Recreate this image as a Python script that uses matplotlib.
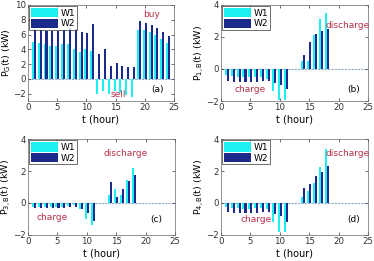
import numpy as np
import matplotlib
matplotlib.use("Agg")
import matplotlib.pyplot as plt

t = np.arange(1, 25)

pg_w1 = [5.0, 4.8, 4.7, 4.5, 4.5, 4.7, 4.7, 4.0, 3.6, 4.1, 3.8, -2.1,
         -1.6, -2.1, -1.7, -1.9, -2.2, -2.4, 6.6, 6.6, 6.3, 5.9, 5.4, 4.9]
pg_w2 = [6.8, 6.6, 6.5, 6.5, 6.5, 6.6, 6.9, 6.8, 6.3, 6.2, 7.4, 3.4,
         4.1, 1.7, 2.1, 1.7, 1.6, 1.6, 7.8, 7.6, 7.3, 6.9, 6.4, 5.8]

p1_w1 = [-0.4, -0.45, -0.5, -0.5, -0.5, -0.5, -0.5, -0.6, -1.4, -1.95, -1.95, 0,
         0, 0.5, 0.5, 2.1, 3.1, 3.5, 0, 0, 0, 0, 0, 0]
p1_w2 = [-0.75, -0.8, -0.8, -0.82, -0.8, -0.8, -0.75, -0.75, -0.9, -1.0, -1.25, 0,
         0, 0.85, 1.7, 2.2, 2.4, 2.5, 0, 0, 0, 0, 0, 0]

p3_w1 = [-0.25, -0.25, -0.25, -0.25, -0.25, -0.25, -0.2, -0.15, -0.4, -1.0, -1.4, 0,
         0, 0.5, 0.9, 0.5, 1.47, 2.22, 0, 0, 0, 0, 0, 0]
p3_w2 = [-0.3, -0.3, -0.3, -0.33, -0.33, -0.3, -0.25, -0.25, -0.4, -0.6, -1.1, 0,
         0, 1.3, 0.35, 0.85, 1.4, 1.75, 0, 0, 0, 0, 0, 0]

p4_w1 = [-0.25, -0.3, -0.3, -0.35, -0.35, -0.3, -0.3, -0.4, -1.2, -1.8, -1.8, 0,
         0, 0.4, 0.75, 1.25, 2.25, 3.4, 0, 0, 0, 0, 0, 0]
p4_w2 = [-0.55, -0.6, -0.6, -0.65, -0.6, -0.6, -0.55, -0.55, -0.7, -0.8, -1.2, 0,
         0, 0.95, 1.2, 1.7, 1.95, 2.3, 0, 0, 0, 0, 0, 0]

series_names = ["W1", "W2"]
c1 = "#1CF0F0"
c2 = "#1B2A8C"
tc = "#B8304A"

fig = plt.figure(figsize=(3.74, 2.61), dpi=100)
plt.rcParams['font.family'] = ['DejaVu Sans']

pos = {
    'a': [0.075, 0.613, 0.390, 0.368],
    'b': [0.591, 0.613, 0.393, 0.368],
    'c': [0.075, 0.100, 0.393, 0.367],
    'd': [0.591, 0.100, 0.393, 0.367],
}

panels = [
    ('a', pg_w1, pg_w2, r"P$_\mathrm{G}$(t) (kW)", (-3, 10), [-2, 0, 2, 4, 6, 8, 10],
     [("buy", 21.1, 8.7), ("sell", 15.4, -2.15)], (22.2, -1.5)),
    ('b', p1_w1, p1_w2, r"P$_\mathrm{1,B}$(t) (kW)", (-2, 4), [-2, 0, 2, 4],
     [("discharge", 21.6, 2.7), ("charge", 4.9, -1.25)], (22.6, -1.25)),
    ('c', p3_w1, p3_w2, r"P$_\mathrm{3,B}$(t) (kW)", (-2, 4), [-2, 0, 2, 4],
     [("discharge", 16.6, 3.1), ("charge", 4.1, -0.9)], (21.8, -1.05)),
    ('d', p4_w1, p4_w2, r"P$_\mathrm{4,B}$(t) (kW)", (-2, 4), [-2, 0, 2, 4],
     [("discharge", 21.6, 3.1), ("charge", 5.9, -1.05)], (22.6, -1.05)),
]

w = 0.36
for key, s1, s2, ylab, ylim, yt, notes, lab in panels:
    ax = fig.add_axes(pos[key])
    ax.axhline(0, color="#8FA8C8", lw=0.8, ls=(0, (2, 1)), zorder=1)
    ax.bar(t - 0.17, s1, width=w, color=c1, label=series_names[0], zorder=2)
    ax.bar(t + 0.17, s2, width=w, color=c2, label=series_names[1], zorder=2)
    ax.set_xlim(0, 25)
    ax.set_ylim(*ylim)
    ax.set_xticks([0, 5, 10, 15, 20, 25])
    ax.set_yticks(yt)
    ax.tick_params(direction='in', length=2.5, width=0.5, labelsize=6.2, pad=1.5,
                   top=True, right=True, colors='#333333')
    for s in ax.spines.values():
        s.set_linewidth(0.5)
        s.set_color('#666666')
    ax.set_xlabel("t (hour)", fontsize=7, labelpad=1.5)
    ax.set_ylabel(ylab, fontsize=6.8, labelpad=0.2)
    for txt, x, y in notes:
        ax.text(x, y, txt, color=tc, fontsize=6.5, ha='center', va='center')
    ax.text(lab[0], lab[1], "(%s)" % key, fontsize=6.5, ha='center', va='center')
    leg = ax.legend(loc='upper left', fontsize=6.5, frameon=True, fancybox=False,
                    borderpad=0.2, handlelength=3.0, handleheight=1.2,
                    handletextpad=0.3, labelspacing=0.1, borderaxespad=0.15)
    leg.get_frame().set_edgecolor('black')
    leg.get_frame().set_linewidth(0.5)

fig.savefig("out.png", dpi=100)
